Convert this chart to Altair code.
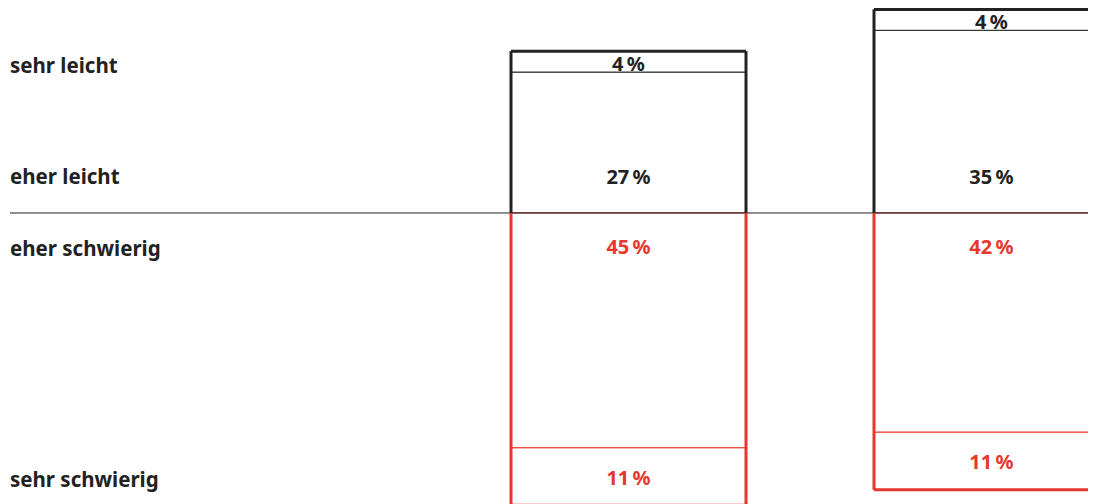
import altair as alt
import pandas as pd

groups = ["Gruppe 1", "Gruppe 2"]
categories = ["sehr leicht", "eher leicht", "eher schwierig", "sehr schwierig"]
values_g1 = [4, 27, 45, 11]
values_g2 = [4, 35, 42, 11]

BLACK = "#222222"
RED = "#e8372c"
FONT = "Noto Sans"

rows = []
for g, vals in zip(groups, [values_g1, values_g2]):
    sl, el, es, ss = vals
    rows.append(dict(group=g, cat=categories[1], side="pos", start=0, end=el, inner=True, value=el))
    rows.append(dict(group=g, cat=categories[0], side="pos", start=el, end=el + sl, inner=False, value=sl))
    rows.append(dict(group=g, cat=categories[2], side="neg", start=0, end=-es, inner=True, value=es))
    rows.append(dict(group=g, cat=categories[3], side="neg", start=-es, end=-es - ss, inner=False, value=ss))
df = pd.DataFrame(rows)
df["label"] = df["value"].astype(str) + "\u2009%"
df["mid"] = (df["start"] + df["end"]) / 2
df["zero"] = 0

tot = df.groupby(["group", "side"], as_index=False).agg(
    total=("end", lambda s: s.loc[s.abs().idxmax()])
)
tot["zero"] = 0

W, H = 1080, 496
xscale = alt.Scale(domain=groups, range=[503, 1101], paddingInner=0.3526, paddingOuter=0)
yscale = alt.Scale(domain=[-55.75, 39.27], nice=False, zero=False)
color_scale = alt.Scale(domain=["pos", "neg"], range=[BLACK, RED])

base = alt.Chart(df)

segments = base.mark_rect(fill="white", strokeWidth=1).encode(
    x=alt.X("group:N", scale=xscale, axis=None),
    y=alt.Y("start:Q", scale=yscale, axis=None),
    y2="end:Q",
    stroke=alt.Stroke("side:N", scale=color_scale, legend=None),
)

tb = alt.Chart(tot)
left_edge = tb.mark_rule(strokeWidth=3).encode(
    x=alt.X("group:N", scale=xscale, bandPosition=0, axis=None),
    y=alt.Y("zero:Q", scale=yscale, axis=None),
    y2="total:Q",
    color=alt.Color("side:N", scale=color_scale, legend=None),
)
right_edge = tb.mark_rule(strokeWidth=3).encode(
    x=alt.X("group:N", scale=xscale, bandPosition=1, axis=None),
    y=alt.Y("zero:Q", scale=yscale, axis=None),
    y2="total:Q",
    color=alt.Color("side:N", scale=color_scale, legend=None),
)
end_edge = tb.mark_rect(fill=None, strokeWidth=3, strokeJoin="miter").encode(
    x=alt.X("group:N", scale=xscale, axis=None),
    y=alt.Y("total:Q", scale=yscale, axis=None),
    y2="total:Q",
    stroke=alt.Stroke("side:N", scale=color_scale, legend=None),
)

baseline = alt.Chart(pd.DataFrame({"y": [0]})).mark_rule(color=BLACK, strokeWidth=1).encode(
    y=alt.Y("y:Q", scale=yscale, axis=None),
    x=alt.value(2),
    x2=alt.value(W),
)


def pct_text(data_filter, ycol, dy):
    return base.transform_filter(data_filter).mark_text(
        font=FONT, fontWeight="bold", fontSize=20, baseline="middle", align="center", dy=dy
    ).encode(
        x=alt.X("group:N", scale=xscale, axis=None),
        y=alt.Y(f"{ycol}:Q", scale=yscale, axis=None),
        text="label:N",
        color=alt.Color("side:N", scale=color_scale, legend=None),
    )


def row_text(data_filter, ycol, dy):
    return base.transform_filter(data_filter).transform_filter(
        alt.datum.group == groups[0]
    ).mark_text(
        font=FONT, fontWeight="bold", fontSize=20.5, baseline="middle", align="left", dy=dy, color=BLACK
    ).encode(
        x=alt.value(2),
        y=alt.Y(f"{ycol}:Q", scale=yscale, axis=None),
        text="cat:N",
    )


inner_pos = (alt.datum.inner) & (alt.datum.side == "pos")
inner_neg = (alt.datum.inner) & (alt.datum.side == "neg")
outer_pos = (~alt.datum.inner) & (alt.datum.side == "pos")
outer_neg = (~alt.datum.inner) & (alt.datum.side == "neg")

texts = [
    pct_text(inner_pos, "zero", -35),
    pct_text(inner_neg, "zero", 35),
    pct_text(outer_pos, "mid", 3),
    pct_text(outer_neg, "mid", 2),
    row_text(inner_pos, "zero", -35),
    row_text(inner_neg, "zero", 37),
    row_text(outer_pos, "mid", 5),
    row_text(outer_neg, "mid", 4),
]

chart = alt.layer(
    segments, baseline, left_edge, right_edge, end_edge, *texts
).properties(
    width=W, height=H, padding=0, autosize="none"
).configure_view(stroke=None)

chart.save("out.html", embed_options={"renderer": "svg", "actions": False})
